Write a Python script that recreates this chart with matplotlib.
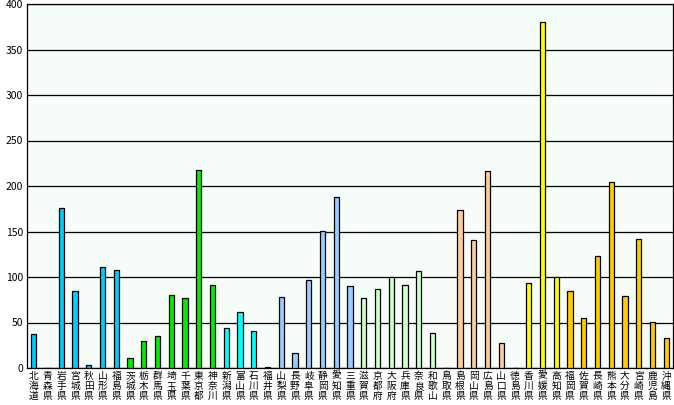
import matplotlib
matplotlib.use("Agg")
import matplotlib.pyplot as plt

plt.rcParams["font.family"] = ["Noto Sans CJK JP", "DejaVu Sans"]

PREFS = [
    "北海道", "青森県", "岩手県", "宮城県", "秋田県", "山形県", "福島県",
    "茨城県", "栃木県", "群馬県", "埼玉県", "千葉県", "東京都", "神奈川",
    "新潟県", "富山県", "石川県", "福井県", "山梨県", "長野県", "岐阜県",
    "静岡県", "愛知県", "三重県", "滋賀県", "京都府", "大阪府", "兵庫県",
    "奈良県", "和歌山", "鳥取県", "島根県", "岡山県", "広島県", "山口県",
    "徳島県", "香川県", "愛媛県", "高知県", "福岡県", "佐賀県", "長崎県",
    "熊本県", "大分県", "宮崎県", "鹿児島", "沖縄県",
]
VALUES = [
    37, 0, 176, 85, 3, 111, 108,
    11, 30, 35, 80, 77, 218, 91,
    44, 62, 41, 1, 78, 17, 97,
    151, 188, 90, 77, 87, 100, 91,
    107, 38, 0, 174, 141, 216, 27,
    0, 93, 380, 100, 85, 55, 123,
    204, 79, 142, 51, 33,
]
# region colour per prefecture
REGION_SIZES = [7, 7, 4, 6, 6, 5, 4, 8]
REGION_COLORS = ["#00ccff", "#00ee00", "#00ffff", "#99ccff",
                 "#ccffcc", "#ffcc99", "#ffff00", "#ffcc00"]
YTICKS = [0, 50, 100, 150, 200, 250, 300, 350, 400]

colors = []
for n, c in zip(REGION_SIZES, REGION_COLORS):
    colors += [c] * n

fig = plt.figure(figsize=(6.74, 4.05), dpi=100, facecolor="white")
ax = fig.add_axes([27 / 674, 37 / 405, 646 / 674, 364 / 405])
ax.set_facecolor("#f6fcf8")

xs = range(len(PREFS))
ax.bar(xs, VALUES, width=0.38, color=colors, edgecolor="black",
       linewidth=0.9, zorder=3)

ax.set_xlim(-0.5, len(PREFS) - 0.5)
ax.set_ylim(0, 400)
ax.set_yticks(YTICKS)
ax.set_yticklabels([str(v) for v in YTICKS], fontsize=7.5)
ax.set_xticks(list(xs))
ax.set_xticklabels(["\n".join(p) for p in PREFS], fontsize=7.0,
                   linespacing=1.0)
ax.tick_params(axis="x", length=0, pad=2, colors="black")
ax.tick_params(axis="y", length=0, pad=3, colors="black")
ax.grid(axis="y", color="black", linewidth=0.9, zorder=1)
for s in ax.spines.values():
    s.set_color("black")
    s.set_linewidth(0.9)

fig.savefig("out.png", dpi=100, facecolor="white")
